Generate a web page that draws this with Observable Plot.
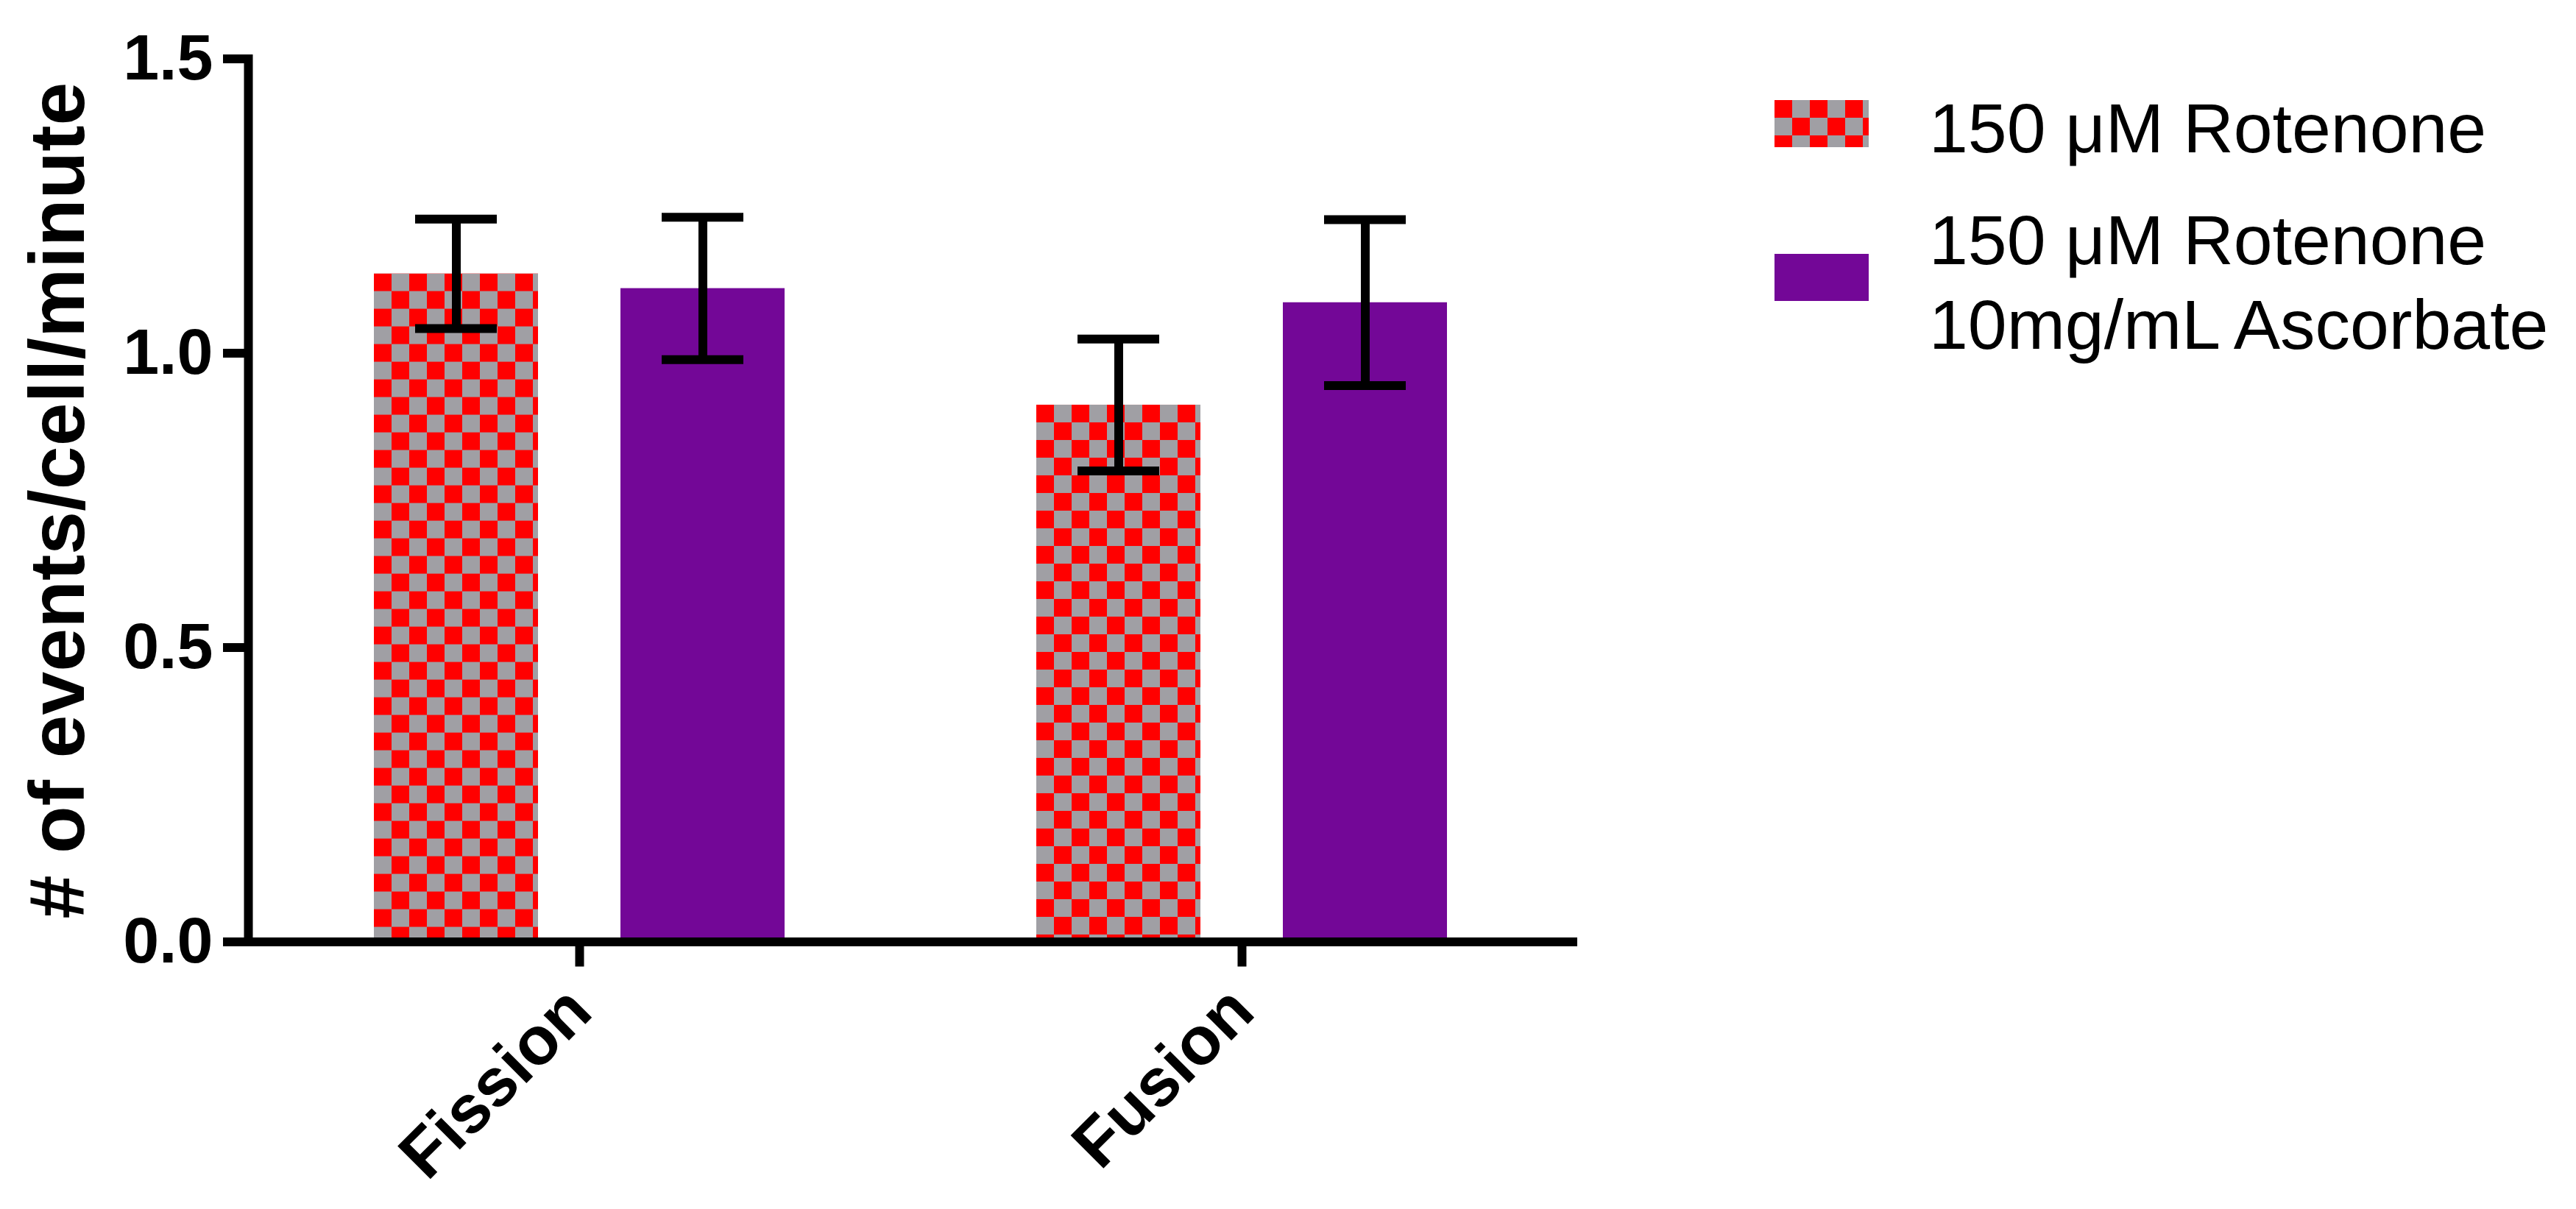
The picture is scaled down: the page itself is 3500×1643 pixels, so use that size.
<!DOCTYPE html>
<html><head><meta charset="utf-8">
<script src="https://cdn.jsdelivr.net/npm/d3@7"></script>
<script src="https://cdn.jsdelivr.net/npm/@observablehq/plot@0.6"></script>
<style>
html,body{margin:0;padding:0;background:#fff;}
#wrap{position:relative;width:3500px;height:1643px;font-family:"Liberation Sans",Arial,sans-serif;}
#legend{position:absolute;left:2411px;top:0;color:#000;font-size:95px;line-height:115px;}
.entry{position:absolute;left:0;display:flex;align-items:flex-start;white-space:nowrap;}
.sw{width:128px;height:64px;margin-right:82px;flex:none;}
</style></head><body><div id="wrap"></div>
<script>
const categories = ["Fission", "Fusion"];
const seriesKeys = ["rotenone", "ascorbate"];
const seriesLabels = [["150 μM Rotenone"], ["150 μM Rotenone", "10mg/mL Ascorbate"]];
const rotenoneMean = [1.135, 0.912];
const rotenoneSem = [0.093, 0.112];
const ascorbateMean = [1.110, 1.086];
const ascorbateSem = [0.121, 0.141];
const yTicks = [0, 0.5, 1.0, 1.5];
const yLabel = "# of events/cell/minute";
const RED = "#ff0000", GRAY = "#a09fa4", PURPLE = "#730797";

const rows = [];
categories.forEach((c, i) => {
  rows.push({category: c, series: "rotenone", mean: rotenoneMean[i], sem: rotenoneSem[i]});
  rows.push({category: c, series: "ascorbate", mean: ascorbateMean[i], sem: ascorbateSem[i]});
});

const plot = Plot.plot({
  width: 3500, height: 1643,
  marginLeft: 337, marginRight: 1363, marginTop: 79.6, marginBottom: 363.5,
  style: {fontFamily: "Liberation Sans, Arial, sans-serif", color: "#000", background: "#fff"},
  fx: {domain: categories, padding: 0, label: null},
  x: {domain: seriesKeys, axis: null, paddingInner: 1/3, paddingOuter: 0.506},
  y: {domain: [0, 1.5], axis: null},
  marks: [
    Plot.barY(rows.filter(d => d.series === "rotenone"), {fx: "category", x: "series", y: "mean", fill: RED}),
    Plot.barY(rows.filter(d => d.series === "ascorbate"), {fx: "category", x: "series", y: "mean", fill: PURPLE}),
    Plot.ruleX(rows, {fx: "category", x: "series", y1: d => d.mean - d.sem, y2: d => d.mean + d.sem, stroke: "#000", strokeWidth: 12}),
    Plot.tickY(rows, {fx: "category", x: "series", y: d => d.mean - d.sem, stroke: "#000", strokeWidth: 12, inset: 56}),
    Plot.tickY(rows, {fx: "category", x: "series", y: d => d.mean + d.sem, stroke: "#000", strokeWidth: 12, inset: 56}),
    Plot.ruleY([0], {stroke: "#000", strokeWidth: 12, strokeLinecap: "square"}),
    Plot.frame({anchor: "left", facetAnchor: "left", stroke: "#000", strokeWidth: 12, strokeLinecap: "square"}),
    Plot.axisY({ticks: yTicks, tickSize: 34, tickPadding: 14, strokeWidth: 12, fontSize: 88, fontWeight: "bold", tickFormat: d => d.toFixed(1), label: null}),
    Plot.axisFx({anchor: "bottom", tickSize: 34, strokeWidth: 12, tickRotate: -45, fontSize: 92, fontWeight: "bold", label: null, tickPadding: 44}),
    Plot.text([yLabel], {fx: () => categories[0], frameAnchor: "left", rotate: -90, dx: -257, fontSize: 106, fontWeight: "bold", textAnchor: "middle", lineAnchor: "middle"})
  ]
});

// checker patterns anchored at each checker bar's top-left corner
const svg = d3.select(plot);
const defs = svg.insert("defs", ":first-child");
svg.selectAll("rect").filter(function() {
  const own = this.getAttribute("fill");
  const parent = this.parentNode && this.parentNode.getAttribute && this.parentNode.getAttribute("fill");
  return (own || parent || "").toLowerCase() === RED;
}).each(function(d, i) {
  const r = d3.select(this);
  const id = "checker-" + i;
  const p = defs.append("pattern").attr("id", id).attr("patternUnits", "userSpaceOnUse")
    .attr("x", r.attr("x") || 0).attr("y", r.attr("y") || 0).attr("width", 48).attr("height", 48);
  p.append("rect").attr("width", 48).attr("height", 48).attr("fill", GRAY);
  p.append("rect").attr("width", 24).attr("height", 24).attr("fill", RED);
  p.append("rect").attr("x", 24).attr("y", 24).attr("width", 24).attr("height", 24).attr("fill", RED);
  r.attr("fill", `url(#${id})`);
});

const wrap = document.getElementById("wrap");
wrap.appendChild(plot);

// legend
const legend = document.createElement("div");
legend.id = "legend";
const entryTops = [117, 269];
const swatchOffsets = [19, 76];
const swatchBgs = [
  `conic-gradient(${GRAY} 0 25%, ${RED} 0 50%, ${GRAY} 0 75%, ${RED} 0) 0 0 / 48px 48px`,
  PURPLE
];
seriesLabels.forEach((lines, i) => {
  const e = document.createElement("div");
  e.className = "entry";
  e.style.top = entryTops[i] + "px";
  const sw = document.createElement("div");
  sw.className = "sw";
  sw.style.background = swatchBgs[i];
  sw.style.marginTop = swatchOffsets[i] + "px";
  const t = document.createElement("div");
  t.innerHTML = lines.join("<br>");
  e.appendChild(sw); e.appendChild(t);
  legend.appendChild(e);
});
wrap.appendChild(legend);
</script>
</body></html>
